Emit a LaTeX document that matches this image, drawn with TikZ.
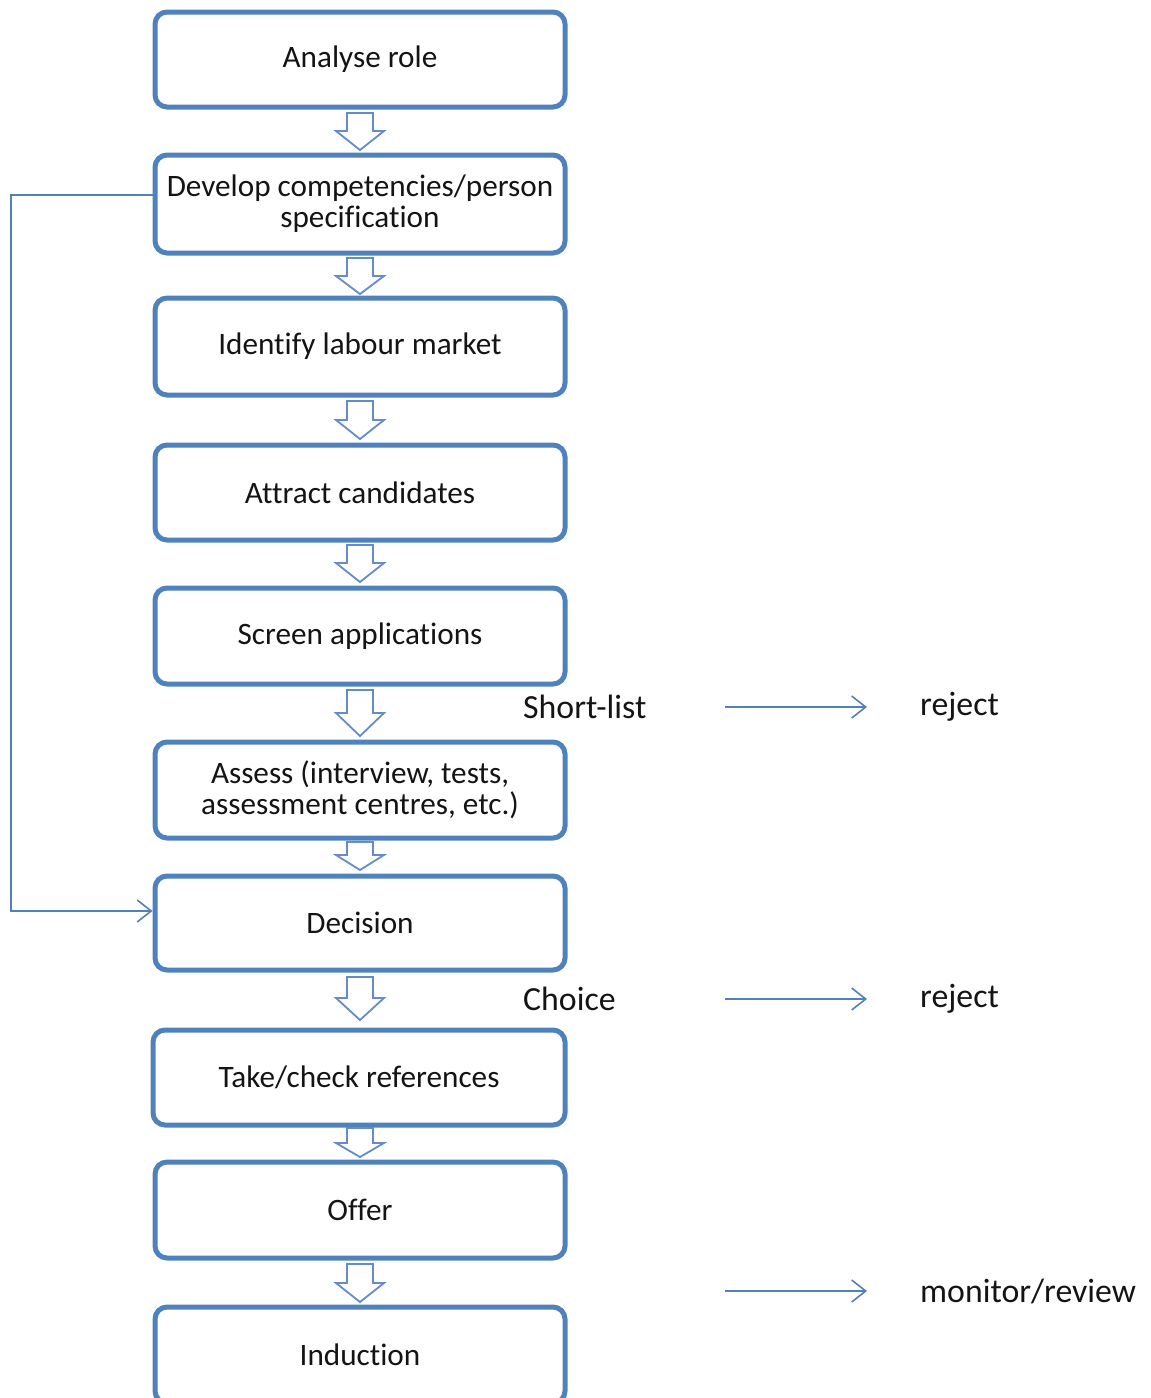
\documentclass[tikz,border=0pt]{standalone}
\usepackage{fontspec}
\setmainfont{Carlito}[Ligatures=NoCommon]
\usetikzlibrary{arrows.meta}
\definecolor{boxblue}{RGB}{79,129,189}
\definecolor{arrblue}{RGB}{100,140,200}
\definecolor{txt}{RGB}{20,20,20}
\newcommand\barrow[3]{%
  \draw[blockarr] (347,#1) -- (373,#1) -- (373,#2) -- (384,#2) -- (360,#3) -- (336,#2) -- (347,#2) -- cycle;}
\begin{document}
\begin{tikzpicture}[x=1pt,y=-1pt,
  stage/.style={draw=boxblue, line width=5pt, rounded corners=12pt, fill=white,
    minimum width=410pt, align=center, text=txt, font=\fontsize{31.2}{31}\selectfont, inner sep=0pt},
  sidelabel/.style={anchor=west, text=txt, font=\fontsize{33.8}{36}\selectfont, inner sep=0pt},
  blockarr/.style={draw=arrblue, line width=1.8pt, fill=white, line join=miter},
  thin/.style={draw=boxblue, line width=1.6pt},
  openarr/.style={thin, -{Straight Barb[length=14pt, width=22pt, line width=1.6pt]}}]
\useasboundingbox (0,0) rectangle (1151,1398);
\clip (0,0) rectangle (1151,1398);
\node[stage, minimum height=95pt] (s1) at (360,59.5) {Analyse role};
\node[stage, minimum height=98pt] (s2) at (360,204) {Develop competencies/person\\specification};
\node[stage, minimum height=97pt] (s3) at (360,346.5) {Identify labour market};
\node[stage, minimum height=95pt] (s4) at (360,492.5) {Attract candidates};
\node[stage, minimum height=96pt] (s5) at (360,636) {Screen applications};
\node[stage, minimum height=96pt] (s6) at (360,790) {Assess (interview, tests,\\assessment centres, etc.)};
\node[stage, minimum height=94pt] (s7) at (360,923) {Decision};
\node[stage, minimum height=95pt, minimum width=412pt] (s8) at (359,1077.5) {Take/check references};
\node[stage, minimum height=96pt] (s9) at (360,1210) {Offer};
\node[stage, minimum height=96pt] (s10) at (360,1355) {Induction};
\barrow{113}{131}{150}
\barrow{258}{276}{294}
\barrow{401}{420}{439}
\barrow{545}{563}{582}
\barrow{690}{713}{736}
\barrow{842}{855}{870}
\barrow{977}{998}{1020}
\barrow{1128}{1143}{1157}
\barrow{1264}{1283}{1302}
% feedback loop
\draw[openarr] ([yshift=9pt]s2.west) -- (11,195) -- (11,911) -- ([yshift=12pt]s7.west);
% side labels
\node[sidelabel] (sl) at (523,707) {Short-list};
\node[sidelabel] (r1) at (920,707) {reject};
\node[sidelabel] (ch) at (523,999) {Choice};
\node[sidelabel] (r2) at (920,999) {reject};
\node[sidelabel] (mr) at (920,1291) {monitor/review};
\coordinate (a1s) at (725,707); \coordinate (a1e) at (867,707);
\coordinate (a2s) at (725,999); \coordinate (a2e) at (867,999);
\coordinate (a3s) at (725,1291); \coordinate (a3e) at (867,1291);
\draw[openarr] (a1s) -- (a1e);
\draw[openarr] (a2s) -- (a2e);
\draw[openarr] (a3s) -- (a3e);
\end{tikzpicture}
\end{document}
